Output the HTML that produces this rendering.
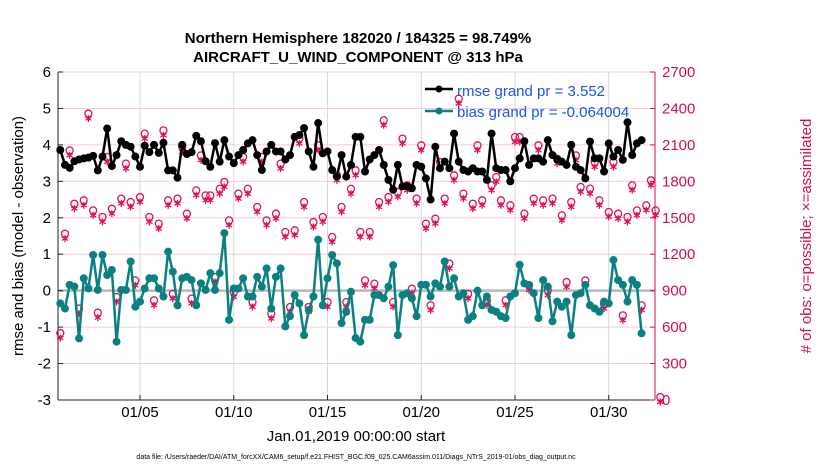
<!DOCTYPE html>
<html><head><meta charset="utf-8">
<style>
html,body{margin:0;padding:0;background:#fff;}
svg{display:block;font-family:"Liberation Sans",Arial,sans-serif;}
</style></head>
<body>
<svg id="chart" width="830" height="470" viewBox="0 0 830 470" xmlns="http://www.w3.org/2000/svg">
<text x="358" y="43" text-anchor="middle" font-size="15" font-weight="bold">Northern Hemisphere 182020 / 184325 = 98.749%</text>
<text x="358" y="62" text-anchor="middle" font-size="15" font-weight="bold">AIRCRAFT_U_WIND_COMPONENT @ 313 hPa</text>
<g id="grid"></g>
<g id="axes"></g>
<g id="marks"></g>
<text transform="translate(23,236) rotate(-90)" text-anchor="middle" font-size="15">rmse and bias (model - observation)</text>
<text transform="translate(811,236) rotate(-90)" text-anchor="middle" font-size="15" fill="#d0104c"># of obs: o=possible; ×=assimilated</text>
<text x="356" y="441" text-anchor="middle" font-size="15">Jan.01,2019 00:00:00 start</text>
<text x="356" y="459" text-anchor="middle" font-size="7">data file: /Users/raeder/DAI/ATM_forcXX/CAM6_setup/f.e21.FHIST_BGC.f09_025.CAM6assim.011/Diags_NTrS_2019-01/obs_diag_output.nc</text>
<g>
<line x1="425" y1="89" x2="453" y2="89" stroke="#000" stroke-width="2.5"/>
<circle cx="439" cy="89" r="3.5" fill="#000"/>
<text x="457" y="96" font-size="15" fill="#1a55f0">rmse grand pr = 3.552</text>
<line x1="425" y1="111" x2="453" y2="111" stroke="#0a8080" stroke-width="2.5"/>
<circle cx="439" cy="111" r="3.5" fill="#0a8080"/>
<text x="457" y="117" font-size="15" fill="#1a55f0">bias grand pr = -0.064004</text>
</g>
</svg>
<script>
const rmse = [3.86,3.45,3.37,3.55,3.6,3.63,3.65,3.7,3.3,3.68,4.45,3.42,3.72,4.1,4.0,3.95,3.68,3.4,3.98,3.8,4.0,3.78,4.06,3.3,3.3,3.1,4.0,3.75,3.8,4.25,4.1,3.55,3.4,4.05,
3.54,4.13,3.68,3.5,3.72,3.86,4.04,4.13,3.72,3.31,3.82,4.0,3.82,3.82,3.6,3.72,4.22,4.27,4.46,3.82,3.4,4.6,3.77,3.82,3.31,3.13,3.72,3.13,3.45,4.22,
4.22,3.27,3.6,3.72,3.86,3.45,3.04,2.77,3.45,2.86,2.86,2.81,3.45,3.4,3.08,2.5,3.95,3.36,3.54,3.36,4.31,3.54,3.31,3.27,3.36,3.27,3.27,3.04,4.31,3.36,3.31,
3.31,3.0,3.36,3.63,4.1,3.45,3.63,3.63,3.54,4.13,3.72,3.6,3.54,3.45,4.0,3.4,3.31,3.08,4.09,3.63,3.63,3.27,4.04,3.68,3.86,3.59,4.62,3.72,4.04,4.13];
const bias = [-0.35,-0.49,0.16,0.11,-1.31,0.34,0.06,0.98,0.02,0.98,0.43,0.57,-1.4,0.02,0.02,0.8,-0.44,-0.3,0.06,0.34,0.34,0.06,-0.16,1.07,0.52,-0.4,0.34,0.38,0.29,-0.4,0.2,0.02,0.48,0.02,
0.48,1.58,-0.8,0.06,0.06,0.34,-0.16,-0.16,0.38,0.11,0.61,-0.49,0.38,0.61,-0.98,-0.7,-0.12,-0.35,-1.22,-0.53,-0.16,1.4,-0.4,0.34,0.98,0.75,-0.89,-0.58,-0.03,-1.3,
-1.4,-0.8,-0.8,-0.12,-0.12,-0.21,0.11,0.7,-1.22,-0.12,-0.07,-0.21,-0.7,0.16,0.16,-0.16,0.2,0.11,0.8,0.11,0.34,-0.16,-0.07,-0.8,-0.7,0.0,-0.4,-0.16,-0.53,-0.58,-0.7,
-0.75,-0.16,-0.07,0.71,0.2,0.16,-0.07,-0.75,0.29,0.11,-0.84,-0.3,-0.44,-0.3,-1.22,-0.12,-0.07,0.16,-0.4,-0.49,-0.58,-0.3,-0.35,0.84,0.29,0.16,-0.3,0.29,0.16,-1.17];
const nobs = [526,1344,2030,1591,728,1619,2333,1536,694,1482,1976,1550,823,1633,1921,1605,960,1646,2168,1482,796,1427,2195,1619,850,1633,2058,1509,810,1701,1989,1660,
1660,988,1714,1770,1454,864,1674,1976,1714,782,1564,1976,1454,686,1509,1921,1358,741,1372,2127,1605,741,1440,2072,1482,782,1317,1825,1564,782,1714,1866,1358,960,
1358,933,1605,2278,1646,782,1688,2127,1743,892,1633,2072,1427,755,1468,1934,1633,1098,1825,2456,1674,850,1591,2072,1619,796,1743,1811,1619,796,1578,2140,
2140,1509,919,1633,2072,1619,878,1633,1962,1495,946,1605,1989,1729,960,1715,1934,1619,768,1523,1934,1509,672,1482,1743,1536,755,1578,1784,1536,0];
const xTicks = [5,10,15,20,25,30];
const xTickLabels = ["01/05","01/10","01/15","01/20","01/25","01/30"];
const yTicks = [-3,-2,-1,0,1,2,3,4,5,6];
const rTicks = [0,300,600,900,1200,1500,1800,2100,2400,2700];

const L=58,R=655,T=72,B=400;
const xs = t => 140 + (t-5)*18.75;
const ys = v => B - (v+3)*(B-T)/9;
const yr = v => B - v*(B-T)/2700;
const tOf = i => 0.75 + i*0.25;
const NS="http://www.w3.org/2000/svg";
function mk(parent,tag,attrs,text){const e=document.createElementNS(NS,tag);for(const k in attrs)e.setAttribute(k,attrs[k]);if(text!==undefined)e.textContent=text;parent.appendChild(e);return e;}
const grid=document.getElementById('grid'),axes=document.getElementById('axes'),marks=document.getElementById('marks');

yTicks.forEach(v=>{ if(v!==-3){const g=mk(grid,'line',{x1:L,x2:R,y1:ys(v),y2:ys(v),stroke:'#f4cbdc','stroke-width':1});

}});
xTicks.forEach(t=>{const g=mk(grid,'line',{x1:xs(t),x2:xs(t),y1:T,y2:B,stroke:'#d8d8d8','stroke-width':1});

});
const z=mk(grid,'line',{x1:L,x2:R,y1:ys(0),y2:ys(0),stroke:'#b8b8b8','stroke-width':2.5});



mk(axes,'line',{x1:L,x2:L,y1:T,y2:B,stroke:'#222','stroke-width':1});
mk(axes,'line',{x1:L,x2:R,y1:B,y2:B,stroke:'#222','stroke-width':1});
mk(axes,'line',{x1:R,x2:R,y1:T,y2:B,stroke:'#d0104c','stroke-width':1});
yTicks.forEach(v=>{mk(axes,'line',{x1:L,x2:L+5,y1:ys(v),y2:ys(v),stroke:'#222'});
const t=mk(axes,'text',{x:L-7,y:ys(v)+5,'text-anchor':'end','font-size':15},String(v));

});
rTicks.forEach(v=>{mk(axes,'line',{x1:R-5,x2:R,y1:yr(v),y2:yr(v),stroke:'#d0104c'});
const t=mk(axes,'text',{x:R+7,y:yr(v)+5,'font-size':15,fill:'#d0104c'},String(v));

});
xTicks.forEach((d,i)=>{mk(axes,'line',{x1:xs(d),x2:xs(d),y1:B-5,y2:B,stroke:'#222'});
const t=mk(axes,'text',{x:xs(d),y:417,'text-anchor':'middle','font-size':15},xTickLabels[i]);

});

nobs.forEach((v,i)=>{const x=xs(tOf(i)),y=yr(v);
const g=mk(marks,'g',{stroke:'#e0105a','stroke-width':1.3,fill:'none'});


mk(g,'circle',{cx:x,cy:y-3,r:3.5});
const s=3.5;
mk(g,'line',{x1:x,y1:y-s+2,x2:x,y2:y+s+2});
mk(g,'line',{x1:x-s*0.87,y1:y+2-s/2,x2:x+s*0.87,y2:y+2+s/2});
mk(g,'line',{x1:x-s*0.87,y1:y+2+s/2,x2:x+s*0.87,y2:y+2-s/2});
});

function series(arr,color,name){
 const pts=arr.map((v,i)=>xs(tOf(i))+','+ys(v)).join(' ');
 const p=mk(marks,'polyline',{points:pts,fill:'none',stroke:color,'stroke-width':2.5,'stroke-linejoin':'round'});
 
 
 arr.forEach((v,i)=>{const c=mk(marks,'circle',{cx:xs(tOf(i)),cy:ys(v),r:4,fill:color});
 
 });
}
series(bias,'#0a8080','bias');
series(rmse,'#000000','rmse');
</script>
</body></html>
